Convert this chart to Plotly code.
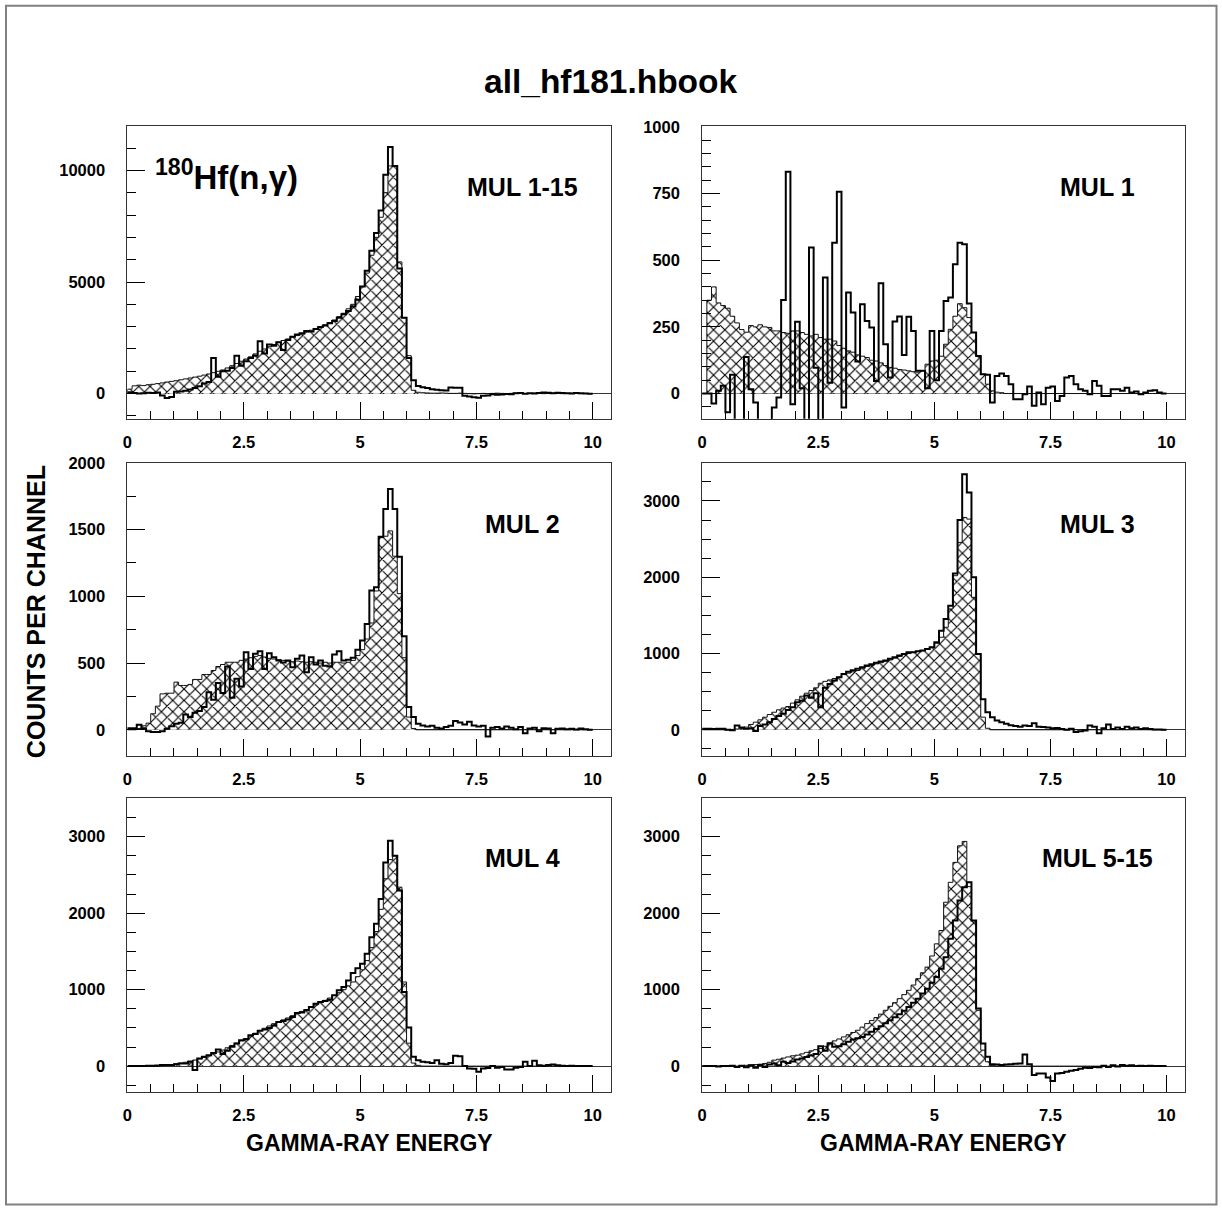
import plotly.graph_objects as go

# ---------------- data ----------------
BIN_WIDTH = 0.1
N_BINS = 100
EDGES = [round(i * BIN_WIDTH, 3) for i in range(N_BINS + 1)]

panel_labels = ["MUL 1-15", "MUL 1", "MUL 2", "MUL 3", "MUL 4", "MUL 5-15"]

# MUL 1-15
mul1_15_open = [60, 30, 10, 20, 40, 30, 50, -80, -200, -150,
                80, 100, 130, 180, 250, 330, 450, 520, 1600, 760,
                1000, 1020, 1150, 1700, 1250, 1450, 1600, 1700, 2350, 1800,
                2200, 2150, 2300, 1950, 2400, 2550, 2650, 2700, 2800, 2780,
                2900, 2980, 3050, 3150, 3250, 3400, 3550, 3700, 3900, 4200,
                4800, 5500, 6400, 7200, 8200, 9800, 11050, 10200, 5600, 3400,
                1600, 600, 340, 280, 250, 200, 170, 150, 140, 270,
                260, 260, -100, -130, -160, -180, -100, -80, -30, -50,
                -40, -20, -30, 20, 30, -10, 20, 10, 30, 50,
                40, 20, 40, 30, 20, 10, 30, 20, 10, 0]
mul1_15_hatch = [200, 350, 380, 360, 400, 420, 450, 480, 520, 550,
                 580, 620, 660, 700, 740, 780, 830, 880, 940, 1000,
                 1060, 1150, 1250, 1350, 1450, 1550, 1650, 1780, 1900, 2000,
                 2100, 2200, 2300, 2380, 2450, 2530, 2600, 2680, 2760, 2840,
                 2920, 3000, 3080, 3180, 3300, 3450, 3600, 3800, 4000, 4350,
                 4800, 5400, 6200, 7000, 7900, 9000, 10200, 10200, 5900, 3400,
                 1700, 150, 60, 40, 30, 20, 20, 30, 20, 10,
                 10, 20, 10, 0, -10, 0, 10, 0, 10, 20,
                 10, 0, 10, 20, 10, 0, 10, 20, 10, 0,
                 10, 20, 10, 0, 10, 20, 10, 0, 10, 0]

# MUL 1
mul1_open = [0, 0, -37, 10, 29, -70, 70, -300, -300, 137,
             16, -34, -300, -300, -300, -52, -15, 351, 832, -40,
             269, 20, -300, 548, 97, -300, 435, 40, 566, 757,
             -52, 379, 304, 120, 335, 272, 248, 47, 414, 185,
             60, 270, 289, 145, 288, 235, 85, 85, 20, 235,
             50, 235, 347, 360, 485, 566, 560, 338, 229, 141,
             72, 70, -34, 66, 75, 66, 35, -21, -21, -3,
             26, -46, 4, -40, 22, 26, -28, -9, 60, 66,
             35, 16, 10, -3, 47, 29, -9, -9, 16, 16,
             10, 22, 4, 8, -3, 4, 10, 12, 4, 0]
mul1_hatch = [0, 350, 400, 340, 330, 320, 290, 265, 240, 230,
              255, 250, 258, 250, 248, 235, 235, 229, 226, 235,
              235, 229, 222, 216, 222, 210, 204, 204, 197, 180,
              170, 160, 155, 145, 140, 135, 125, 122, 115, 105,
              98, 95, 90, 88, 85, 82, 80, 85, 110, 122,
              125, 140, 185, 241, 290, 337, 322, 285, 229, 141,
              72, 35, 10, 5, 3, 0, 0, 0, 0, 0,
              0, 0, 0, 0, 0, 0, 0, 0, 0, 0,
              0, 0, 0, 0, 0, 0, 0, 0, 0, 0,
              0, 0, 0, 0, 0, 0, 0, 0, 0, 0]

# MUL 2
mul2_open = [12, 12, 37, 10, -10, -17, -17, -10, 7, 27,
             45, 52, 115, 95, 127, 140, 170, 282, 225, 350,
             275, 474, 240, 382, 324, 581, 456, 569, 589, 456,
             574, 544, 519, 505, 519, 469, 532, 556, 432, 544,
             490, 520, 480, 474, 564, 589, 519, 525, 539, 600,
             669, 793, 1043, 1068, 1447, 1654, 1804, 1654, 1297, 700,
             170, 95, 45, 32, 25, 30, 15, 10, 20, 30,
             65, 55, 40, 60, 32, 25, 30, -50, 15, 20,
             10, 25, 15, 5, 20, -25, 10, 15, -10, 12,
             10, -25, 8, 10, 5, 8, 3, 10, 5, 0]
mul2_hatch = [0, 0, 10, 30, 50, 120, 177, 269, 274, 274,
              357, 332, 332, 340, 377, 377, 414, 414, 444, 474,
              489, 506, 506, 506, 520, 530, 540, 550, 556, 545,
              535, 530, 525, 520, 515, 510, 515, 510, 506, 510,
              506, 500, 506, 500, 506, 506, 500, 506, 520, 556,
              600, 680, 800, 1040, 1440, 1450, 1490, 1300, 1020, 540,
              95, 10, 0, 0, 0, 0, 0, 0, 0, 0,
              0, 0, 0, 0, 0, 0, 0, 0, 0, 0,
              0, 0, 0, 0, 0, 0, 0, 0, 0, 0,
              0, 0, 0, 0, 0, 0, 0, 0, 0, 0]

# MUL 3
mul3_open = [13, 13, 10, 15, 13, 0, -5, 57, 30, 13,
             20, -17, 50, 70, 100, 140, 180, 210, 260, 297,
             362, 380, 449, 420, 480, 297, 550, 600, 646, 689,
             733, 760, 780, 800, 820, 842, 860, 880, 895, 907,
             930, 950, 975, 995, 1017, 1017, 1030, 1040, 1060, 1082,
             1147, 1300, 1453, 1627, 2050, 2750, 3350, 3110, 2000, 995,
             400, 231, 166, 122, 100, 80, 60, 50, 40, 57,
             50, 87, 40, 35, 30, 20, 25, 10, 0, 15,
             -30, -20, -10, 57, 40, -44, 20, 70, 10, 30,
             10, 40, 20, 30, 10, 20, 10, 5, 5, 0]
mul3_hatch = [0, 0, 0, 0, 0, 0, 5, 10, 20, 35,
              70, 100, 131, 165, 200, 230, 262, 285, 305, 350,
              393, 440, 480, 515, 550, 611, 635, 654, 672, 689,
              724, 742, 760, 777, 800, 829, 845, 864, 880, 898,
              916, 940, 962, 986, 1000, 1017, 1028, 1038, 1060, 1082,
              1134, 1213, 1344, 1584, 2020, 2456, 2784, 2762, 1737, 995,
              166, 20, 0, 0, 0, 0, 0, 0, 0, 0,
              0, 0, 0, 0, 0, 0, 0, 0, 0, 0,
              0, 0, 0, 0, 0, 0, 0, 0, 0, 0,
              0, 0, 0, 0, 0, 0, 0, 0, 0, 0]

# MUL 4
mul4_open = [0, 3, 0, 2, 5, 5, 8, 13, 13, 13,
             26, 35, 35, 57, -52, 100, 122, 143, 170, 217,
             160, 200, 252, 295, 339, 350, 404, 420, 461, 480,
             500, 530, 578, 590, 608, 643, 695, 700, 730, 773,
             817, 839, 850, 869, 926, 991, 1034, 1121, 1217, 1280,
             1339, 1469, 1686, 1860, 2186, 2664, 2947, 2751, 2295, 969,
             504, 122, 78, 57, 50, 40, 78, 30, 25, 40,
             135, 130, 0, -30, -35, -74, -30, -25, 0, -20,
             -10, -43, -43, -20, -10, 57, 0, 70, 10, 5,
             15, 20, 10, 5, 0, 5, 3, 0, 2, 0]
mul4_hatch = [0, 0, 0, 0, 0, 0, 0, 5, 10, 20,
              30, 40, 50, 65, 80, 95, 115, 135, 160, 185,
              210, 240, 270, 300, 330, 360, 395, 430, 465, 495,
              525, 555, 580, 605, 630, 660, 690, 715, 740, 770,
              800, 830, 860, 890, 925, 960, 1000, 1050, 1100, 1170,
              1260, 1380, 1550, 1760, 2050, 2450, 2700, 2750, 2340, 1100,
              300, 40, 10, 0, 0, 0, 0, 0, 0, 0,
              0, 0, 0, 0, 0, 0, 0, 0, 0, 0,
              0, 0, 0, 0, 0, 0, 0, 0, 0, 0,
              0, 0, 0, 0, 0, 0, 0, 0, 0, 0]

# MUL 5-15
mul5_15_open = [0, 2, 0, -5, 3, 0, 5, -10, 5, -15,
                10, -20, 15, -10, 20, 35, 10, 57, 40, 60,
                87, 100, 120, 140, 160, 261, 200, 296, 252, 260,
                287, 320, 348, 365, 382, 415, 448, 485, 522, 560,
                600, 640, 678, 725, 774, 830, 882, 950, 1013, 1090,
                1165, 1273, 1425, 1664, 1903, 2164, 2338, 2403, 1903, 752,
                296, 122, 26, 20, 15, 20, 25, 30, 35, 152,
                26, -117, -96, -96, -148, -196, -96, -90, -74, -60,
                -50, -35, -20, -25, -10, -15, 5, -10, 10, -5,
                15, 5, 10, 0, 5, 0, 5, 0, 2, 0]
mul5_15_hatch = [0, 0, 0, 0, 0, 0, 0, 0, 5, 10,
                 15, 20, 25, 35, 50, 78, 90, 105, 120, 135,
                 143, 160, 180, 200, 215, 230, 260, 304, 330, 355,
                 382, 410, 440, 469, 510, 556, 595, 635, 680, 730,
                 782, 830, 882, 935, 991, 1060, 1143, 1220, 1295, 1440,
                 1599, 1773, 2143, 2403, 2664, 2881, 2938, 2347, 1903, 730,
                 209, 57, 10, 0, 0, 0, 0, 0, 0, 0,
                 0, 0, 0, 0, 0, 0, 0, 0, 0, 0,
                 0, 0, 0, 0, 0, 0, 0, 0, 0, 0,
                 0, 0, 0, 0, 0, 0, 0, 0, 0, 0]

open_series = [mul1_15_open, mul1_open, mul2_open, mul3_open, mul4_open, mul5_15_open]
hatch_series = [mul1_15_hatch, mul1_hatch, mul2_hatch, mul3_hatch, mul4_hatch, mul5_15_hatch]

x_ticks = [0, 2.5, 5, 7.5, 10]
x_tick_text = ["0", "2.5", "5", "7.5", "10"]

# y axis ranges, major and minor tick steps per panel
y_ranges = [(-1130, 11980), (-95, 1003), (-200, 2000), (-350, 3500), (-340, 3500), (-340, 3500)]
y_major = [5000, 250, 500, 1000, 1000, 1000]
y_minor = [1000, 50, 250, 250, 250, 250]

# ---------------- layout geometry (pixels) ----------------
W, H = 1222, 1209
OX, OY = 4.5, 7.7          # measured offset of the rendered paper area
COLS = [(127, 611), (702, 1185)]
ROWS = [(125, 418), (462, 756), (798, 1092)]
FONT = "Liberation Sans, Arial, Helvetica, sans-serif"


def px_x(p):
    return (p - OX) / (W - OX)


def px_y(p):
    return 1 - (p - OY) / (H - OY)


def step_xy(vals):
    xs = [EDGES[0]] + EDGES[:-1] + [EDGES[-1], EDGES[-1]]
    ys = [0] + list(vals) + [vals[-1], 0]
    return xs, ys


fig = go.Figure()
layout = {}
annotations = []

for k in range(6):
    r, c = divmod(k, 2)
    sfx = "" if k == 0 else str(k + 1)
    xa, ya = "x" + sfx, "y" + sfx

    hx, hy = step_xy(hatch_series[k])
    fig.add_trace(go.Scatter(
        x=hx, y=hy, xaxis=xa, yaxis=ya, mode="lines", line_shape="hv",
        line=dict(color="#111111", width=1), fill="tozeroy", fillcolor="white",
        fillpattern=dict(shape="x", size=8, solidity=0.26, fgcolor="black",
                         bgcolor="white", fgopacity=1),
        showlegend=False, hoverinfo="skip"))
    ox, oy = step_xy(open_series[k])
    fig.add_trace(go.Scatter(
        x=ox, y=oy, xaxis=xa, yaxis=ya, mode="lines", line_shape="hv",
        line=dict(color="black", width=2), showlegend=False, hoverinfo="skip"))

    x0, x1 = COLS[c]
    y0, y1 = ROWS[r]
    layout["xaxis" + sfx] = dict(
        domain=[px_x(x0), px_x(x1)], anchor=ya, range=[0, 10.4],
        tickmode="array", tickvals=x_ticks, ticktext=x_tick_text,
        ticks="inside", ticklen=17, tickwidth=1, tickcolor="black",
        minor=dict(dtick=0.5, tick0=0, ticks="inside", ticklen=8, tickcolor="black", tickwidth=1),
        showgrid=False, zeroline=False, showline=True, mirror=True,
        linecolor="#333333", linewidth=1,
        tickfont=dict(family=FONT, size=16.5, color="black", weight="bold"),
        ticklabelstandoff=8, fixedrange=True)
    layout["yaxis" + sfx] = dict(
        domain=[px_y(y1), px_y(y0)], anchor=xa, range=list(y_ranges[k]),
        dtick=y_major[k], tick0=0, tickformat="d",
        ticks="inside", ticklen=18, tickwidth=1, tickcolor="black",
        minor=dict(dtick=y_minor[k], tick0=0, ticks="inside", ticklen=9, tickcolor="black", tickwidth=1),
        showgrid=False, zeroline=True, zerolinecolor="#333333", zerolinewidth=1,
        showline=True, mirror=True, linecolor="#333333", linewidth=1,
        tickfont=dict(family=FONT, size=16.5, color="black", weight="bold"),
        ticklabelstandoff=18, fixedrange=True)

    cx = 522 if c == 0 else 1097
    cy = [186, 523, 858][r]
    annotations.append(dict(x=px_x(cx), y=px_y(cy), xref="paper", yref="paper",
                            text=panel_labels[k], showarrow=False,
                            font=dict(family=FONT, size=25, color="black", weight="bold"),
                            xanchor="center", yanchor="middle"))

annotations += [
    dict(x=px_x(611), y=px_y(80), xref="paper", yref="paper", text="all_hf181.hbook",
         showarrow=False, font=dict(family=FONT, size=33.5, color="black", weight="bold"),
         xanchor="center", yanchor="middle"),
    dict(x=px_x(35), y=px_y(611), xref="paper", yref="paper", text="COUNTS PER CHANNEL",
         showarrow=False, textangle=-90,
         font=dict(family=FONT, size=25, color="black", weight="bold"),
         xanchor="center", yanchor="middle"),
    dict(x=px_x(369), y=px_y(1143), xref="paper", yref="paper", text="GAMMA-RAY ENERGY",
         showarrow=False, font=dict(family=FONT, size=23, color="black", weight="bold"),
         xanchor="center", yanchor="middle"),
    dict(x=px_x(943), y=px_y(1143), xref="paper", yref="paper", text="GAMMA-RAY ENERGY",
         showarrow=False, font=dict(family=FONT, size=23, color="black", weight="bold"),
         xanchor="center", yanchor="middle"),
    dict(x=px_x(153), y=px_y(174), xref="paper", yref="paper",
         text="<sup>180</sup>Hf(n,\u03b3)",
         showarrow=False, font=dict(family=FONT, size=33, color="black", weight="bold"),
         xanchor="left", yanchor="middle"),
]

layout.update(
    width=W, height=H, autosize=False,
    margin=dict(l=0, r=0, t=0, b=0, pad=0),
    paper_bgcolor="white", plot_bgcolor="white",
    showlegend=False, annotations=annotations,
    shapes=[dict(type="rect", xref="paper", yref="paper",
                 x0=px_x(5.5), x1=px_x(1216.5), y0=px_y(1204.5), y1=px_y(4.5),
                 line=dict(color="#808080", width=2), fillcolor="rgba(0,0,0,0)")],
)
fig.update_layout(**layout)

fig.write_html("out.html", config={"displayModeBar": False},
               post_script="document.body.style.margin='0px';document.body.style.overflow='hidden';")
